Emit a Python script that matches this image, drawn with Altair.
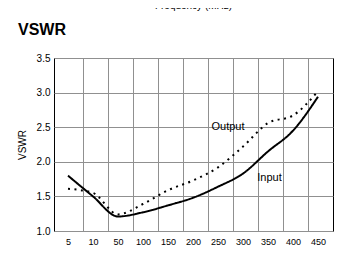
import json
import altair as alt
import pandas as pd

# ---- data ----
freq_labels = ["5", "10", "50", "100", "150", "200", "250", "300", "350", "400", "450"]
input_vswr = [1.80, 1.50, 1.21, 1.27, 1.37, 1.48, 1.64, 1.83, 2.15, 2.45, 2.94]
output_vswr = [1.61, 1.55, 1.24, 1.39, 1.59, 1.73, 1.92, 2.22, 2.56, 2.67, 3.02]
y_ticks = [1.0, 1.5, 2.0, 2.5, 3.0, 3.5]
series_names = ["Input", "Output"]
label_text = ["Output", "Input"]
label_i = [6.4, 8.06]
label_v = [2.51, 1.76]
above_text = ["Frequency (MHz)"]
chart_title = ["VSWR"]

FONT = "Liberation Sans"

idx = list(range(len(freq_labels)))
df = pd.DataFrame({
    "i": idx + idx,
    "vswr": input_vswr + output_vswr,
    "series": [series_names[0]] * len(idx) + [series_names[1]] * len(idx),
})
ann = pd.DataFrame({"label": label_text, "i": label_i, "v": label_v})
top_df = pd.DataFrame({"t": above_text})
title_df = pd.DataFrame({"t": chart_title})

x_scale = alt.Scale(domain=[-0.56, 10.6], nice=False, zero=False)
y_scale = alt.Scale(domain=[1.0, 3.5], nice=False, zero=False)
y_axis = alt.Axis(values=y_ticks, format=".1f", title="VSWR", grid=True, ticks=False,
                  domain=False, labelPadding=4, labelFontSize=10, titleFontSize=10,
                  titleFontWeight="normal", titlePadding=9, gridColor="#909090",
                  gridWidth=1, labelColor="black", titleColor="black")

label_expr = json.dumps(freq_labels) + "[datum.value]"

lines = alt.Chart(df).mark_line(color="black", strokeWidth=2, interpolate="monotone").encode(
    x=alt.X("i:Q", scale=x_scale,
            axis=alt.Axis(values=idx, labelExpr=label_expr, grid=False, ticks=False,
                          domain=False, labelPadding=6, labelFontSize=9,
                          labelColor="black", title="Frequency (MHz)", titleFontSize=11,
                          titleFontWeight="normal", titlePadding=6, titleColor="black",
                          orient="bottom")),
    y=alt.Y("vswr:Q", scale=y_scale, axis=y_axis),
    strokeDash=alt.StrokeDash("series:N", legend=None,
                              scale=alt.Scale(domain=series_names, range=[[1, 0], [2, 4.5]])),
    detail="series:N",
)

grid_values = [k + 0.6 for k in range(10)]
labels = alt.Chart(ann).mark_text(font=FONT, fontSize=11, color="black").encode(
    x=alt.X("i:Q", scale=x_scale,
            axis=alt.Axis(values=grid_values, grid=True, labels=False, ticks=False,
                          domain=False, title=None, orient="top", gridColor="#909090",
                          gridWidth=1)),
    y=alt.Y("v:Q", scale=y_scale, axis=y_axis),
    text="label:N",
)

top_text = alt.Chart(top_df).mark_text(font=FONT, fontSize=10, color="black",
                                       baseline="alphabetic").encode(
    x=alt.value(139.5), y=alt.value(-49), text="t:N")

title_text = alt.Chart(title_df).mark_text(font=FONT, fontSize=16, fontWeight="bold",
                                           color="black", baseline="alphabetic",
                                           align="left").encode(
    x=alt.value(-36), y=alt.value(-23), text="t:N")

chart = alt.layer(lines, labels, top_text, title_text).resolve_axis(x="independent").properties(
    width=279, height=173,
    autosize=alt.AutoSizeParams(type="none"),
    padding={"left": 46, "top": 50, "right": 1, "bottom": 20},
    background="white",
).configure(font=FONT).configure_view(stroke="black", strokeWidth=1)

chart.save("out.html", embed_options={"renderer": "svg", "actions": False})
